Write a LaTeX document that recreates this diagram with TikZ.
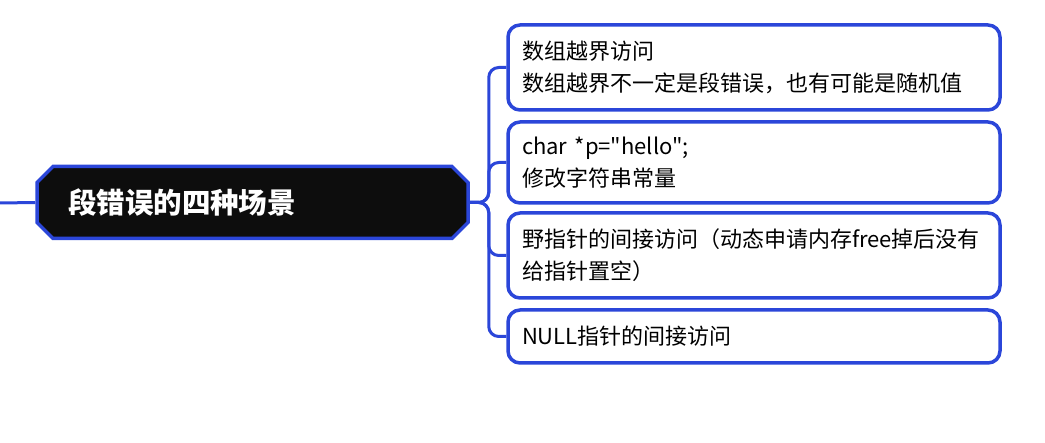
\documentclass[tikz,border=0pt]{standalone}
\usepackage{fontspec}
\newfontfamily\cjk{Noto Sans CJK SC}
\usetikzlibrary{shapes.misc}
\definecolor{mapblue}{HTML}{2B46D9}
\definecolor{rootblack}{HTML}{0D0D0D}
\tikzset{
  rootbox/.style={chamfered rectangle,chamfered rectangle xsep=8pt,chamfered rectangle ysep=8pt,draw=mapblue,fill=rootblack,line width=3.5pt,
    minimum width=415pt,minimum height=72pt,inner xsep=23pt,inner ysep=0pt,text width=369pt,align=left,
    text=white,font=\cjk\fontsize{28.5pt}{34pt}\bfseries\selectfont},
  leafbox/.style={draw=mapblue,fill=white,line width=3.5pt,rounded corners=12pt,
    minimum width=492pt,inner xsep=14pt,inner ysep=0pt,text width=464pt,align=left,
    font=\cjk\fontsize{22pt}{32pt}\selectfont},
  branch/.style={draw=mapblue,line width=3pt,rounded corners=10pt}
}
\begin{document}
\begin{tikzpicture}[x=1pt,y=-1pt]
\useasboundingbox (0,0) rectangle (1045,443);
\coordinate (l) at (0,203);
\node[rootbox](root) at (252.5,202.5){段错误的四种场景};
\node[leafbox,minimum height=85pt](c1) at (754,67.5){数组越界访问\\数组越界不一定是段错误，也有可能是随机值};
\node[leafbox,minimum height=81pt](c2) at (754,162.5){char *p="hello";\\修改字符串常量};
\node[leafbox,minimum height=85pt](c3) at (754,255.5){野指针的间接访问（动态申请内存free掉后没有\\给指针置空）};
\node[leafbox,minimum height=53pt](c4) at (754,336.5){NULL指针的间接访问};
\draw[branch](l)--(root.west);
\foreach \c in {c1,c2,c3,c4}
  \draw[branch](root.east)--++(19,0)|-(\c.west);
\end{tikzpicture}
\end{document}
